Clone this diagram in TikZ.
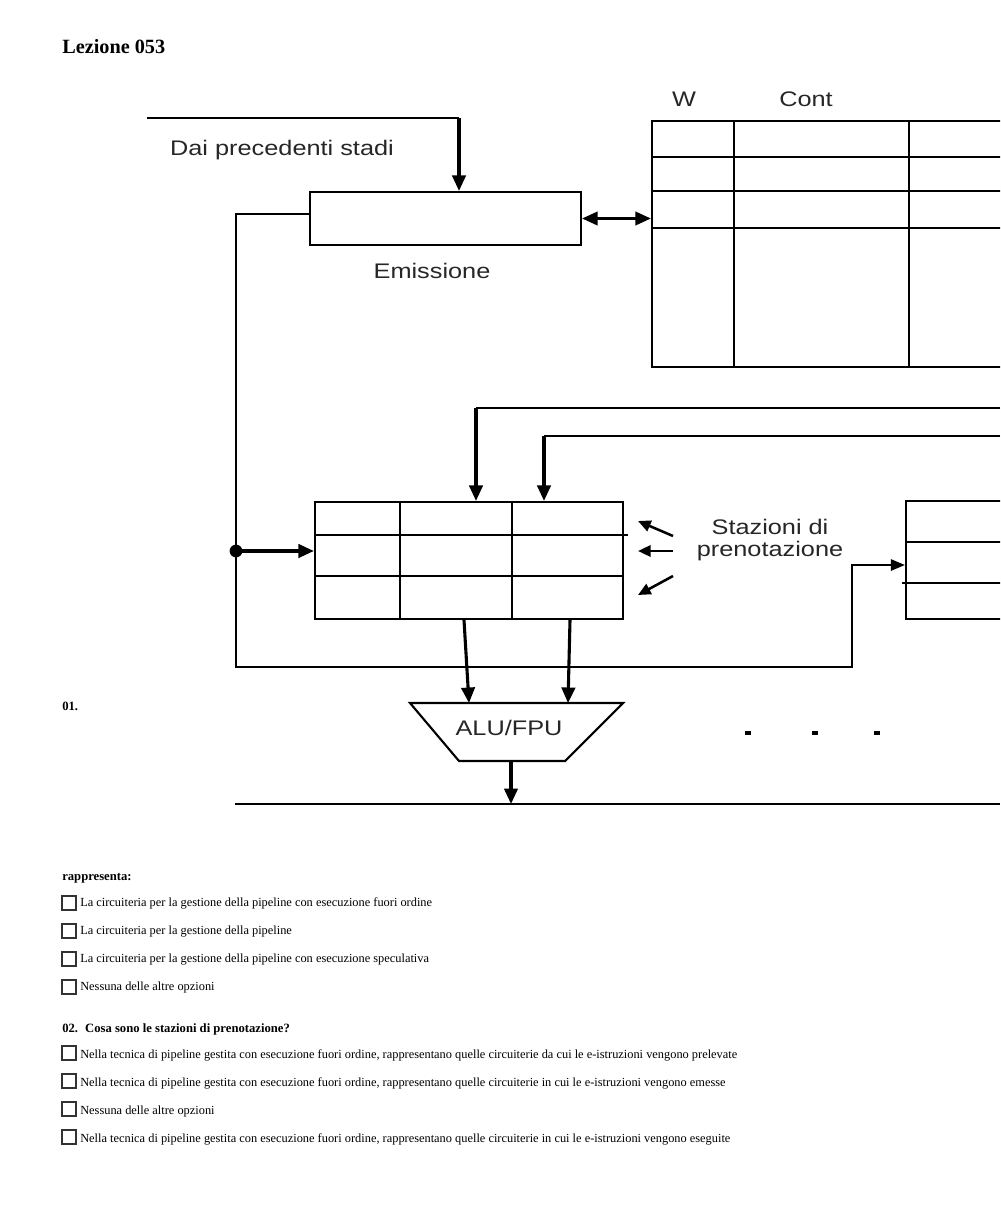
\documentclass[tikz,border=0pt]{standalone}
\usepackage{fontspec}
\setmainfont{Liberation Serif}
\newfontfamily\diagfont[FakeStretch=1.2]{Liberation Sans}
\usetikzlibrary{arrows.meta,positioning,calc}

\begin{document}
\begin{tikzpicture}[
        x=0.025cm, y=-0.025cm,
        >={Triangle[length=11pt,width=9.5pt]},
        % Block styles
        box/.style={
            rectangle,
            draw=black,
            line width=1.5pt,
            inner sep=0pt
        },
        diag/.style={
            font=\diagfont\fontsize{15}{15.6}\selectfont,
            text=black!85,
            inner sep=0pt,
            align=center
        },
        junction/.style={circle, fill=black, inner sep=0pt, minimum size=0.32cm},
        chk/.style={rectangle, draw=black!80, line width=0.8pt, minimum size=0.35cm, inner sep=0pt},
        grid/.style={line width=1.5pt},
        wire/.style={line width=1.4pt},
        arrow/.style={->, line width=2.2pt},
        thinarrow/.style={-{Triangle[length=10pt,width=8pt]}, line width=1.4pt},
        smallarrow/.style={-{Triangle[length=9pt,width=8pt]}, line width=1.8pt},
        dblarrow/.style={{Triangle[length=11pt,width=9.5pt]}-{Triangle[length=11pt,width=9.5pt]}, line width=1.8pt},
        opt/.style={font=\fontsize{8.8}{10.5}\selectfont, inner sep=0pt, anchor=base west},
        qlabel/.style={font=\fontsize{9}{11}\selectfont\bfseries, inner sep=0pt, anchor=base west}
    ]
    \useasboundingbox (0,0) rectangle (1000,1216);
    \clip (0,0) rectangle (1000,1216);

    % Title
    \node[anchor=base west, inner sep=0pt, font=\fontsize{14.4}{17}\selectfont\bfseries] (title) at (62,54) {Lezione 053};

    % Emission
    \node[box, minimum width=6.775cm, minimum height=1.325cm] (emis) at (445.5,218.5) {};
    \node[diag] (emislab) at (432,271) {Emissione};
    \node[diag] (dai) at (282,150) {Dai precedenti stadi};
    \coordinate (prev) at (147,118);
    \coordinate (emisin) at ([xshift=0.3375cm]emis.north);

    % Reorder table
    \node[box, minimum width=8.95cm, minimum height=6.15cm] (rob) at (831,244) {};
    \node[diag] (wlab) at (684,99) {W};
    \node[diag] (contlab) at (806,99) {Cont};
    \draw[grid] (rob.north -| 734,0) -- (rob.south -| 734,0);
    \draw[grid] (rob.north -| 909,0) -- (rob.south -| 909,0);
    \draw[grid] (rob.west |- 0,157) -- (rob.east |- 0,157);
    \draw[grid] (rob.west |- 0,191) -- (rob.east |- 0,191);
    \draw[grid] (rob.west |- 0,228) -- (rob.east |- 0,228);

    % Reservation stations
    \node[box, minimum width=7.7cm, minimum height=2.925cm] (rs1) at (469,560.5) {};
    \draw[grid] (rs1.north -| 400,0) -- (rs1.south -| 400,0);
    \draw[grid] (rs1.north -| 512,0) -- (rs1.south -| 512,0);
    \draw[grid] (rs1.west |- 0,535) -- ([xshift=0.1cm]rs1.east |- 0,535);
    \draw[grid] (rs1.west |- 0,576) -- (rs1.east |- 0,576);
    \coordinate (rsinA) at (rs1.north -| 476,0);
    \coordinate (rsinB) at (rs1.north -| 544,0);

    \node[box, minimum width=2.6cm, minimum height=2.95cm] (rs2) at (958,560) {};
    \draw[grid] (rs2.west |- 0,542) -- (rs2.east |- 0,542);
    \draw[grid] ([xshift=-0.08cm]rs2.west |- 0,583) -- (rs2.east |- 0,583);

    \node[diag] (resv) at (770,540) {Stazioni di\\prenotazione};

    % ALU
    \coordinate (alutl) at (410,703);
    \coordinate (alutr) at (623,703);
    \coordinate (alubr) at (565,761);
    \coordinate (alubl) at (459,761);
    \draw[line width=1.5pt] (alutl) -- (alutr) -- (alubr) -- (alubl) -- cycle;
    \node[diag] (alu) at (509,728) {ALU/FPU};
    \coordinate (aluout) at (511,761);

    % Bus
    \coordinate (busL) at (235,804);
    \coordinate (busR) at (1000,804);
    \node[junction] (split) at (236,551) {};
    \coordinate (bend) at (852,667);
    \coordinate (feedA) at (1000,408);
    \coordinate (feedB) at (1000,436);

    % Connections
    \draw[wire] (prev) -- (prev -| emisin);
    \draw[arrow] (prev -| emisin) -- (emisin);
    \draw[dblarrow] (emis.east) -- (emis.east -| rob.west);
    \draw[wire] (emis.west |- 0,214) -- (236,214) -- (split.center);
    \draw[arrow] (split.center) -- (rs1.west |- split);
    \draw[thinarrow] (split.center) |- (bend) |- (rs2.west |- 0,565);

    \draw[wire] (feedA) -- (feedA -| rsinA);
    \draw[arrow] (feedA -| rsinA) -- (rsinA);
    \draw[wire] (feedB) -- (feedB -| rsinB);
    \draw[arrow] (feedB -| rsinB) -- (rsinB);

    \draw[smallarrow] (673,536) -- (638,521);
    \draw[smallarrow] (673,551) -- (638,551);
    \draw[smallarrow] (673,576) -- (638,595);

    \draw[arrow] (rs1.south -| 464,0) -- (469,703);
    \draw[arrow] (rs1.south -| 570,0) -- (568,703);

    \draw[wire] (busL) -- (busR);
    \draw[arrow] (aluout) -- (aluout |- busL);

    \foreach \x in {748,815,877}
        \fill (\x-3,731) rectangle (\x+3,735);

    % Question 1
    \node[qlabel] (q1num) at (62,710) {01.};
    \node[qlabel] (q1) at (62,880) {rappresenta:};
    \node[chk] (c11) at (69,903) {};
    \node[opt] (o11) at (80,906) {La circuiteria per la gestione della pipeline con esecuzione fuori ordine};
    \node[chk] (c12) at (69,931) {};
    \node[opt] (o12) at (80,934) {La circuiteria per la gestione della pipeline};
    \node[chk] (c13) at (69,959) {};
    \node[opt] (o13) at (80,962) {La circuiteria per la gestione della pipeline con esecuzione speculativa};
    \node[chk] (c14) at (69,987) {};
    \node[opt] (o14) at (80,990) {Nessuna delle altre opzioni};

    % Question 2
    \node[qlabel] (q2) at (62,1032) {02.\hspace{5pt}Cosa sono le stazioni di prenotazione?};
    \node[chk] (c21) at (69,1053) {};
    \node[opt] (o21) at (80,1058) {Nella tecnica di pipeline gestita con esecuzione fuori ordine, rappresentano quelle circuiterie da cui le e-istruzioni vengono prelevate};
    \node[chk] (c22) at (69,1081) {};
    \node[opt] (o22) at (80,1086) {Nella tecnica di pipeline gestita con esecuzione fuori ordine, rappresentano quelle circuiterie in cui le e-istruzioni vengono emesse};
    \node[chk] (c23) at (69,1109) {};
    \node[opt] (o23) at (80,1114) {Nessuna delle altre opzioni};
    \node[chk] (c24) at (69,1137) {};
    \node[opt] (o24) at (80,1142) {Nella tecnica di pipeline gestita con esecuzione fuori ordine, rappresentano quelle circuiterie in cui le e-istruzioni vengono eseguite};

\end{tikzpicture}
\end{document}
